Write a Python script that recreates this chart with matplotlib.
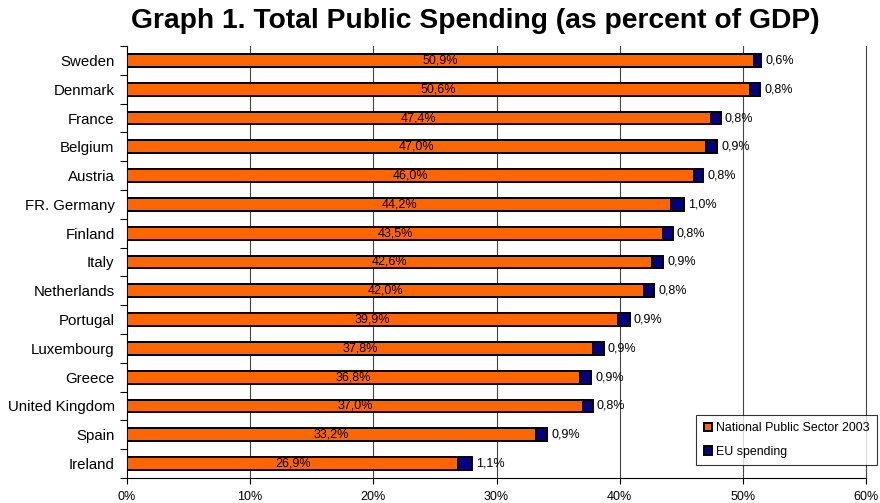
import matplotlib
matplotlib.use("Agg")
import matplotlib.pyplot as plt
import numpy as np

countries = ["Sweden", "Denmark", "France", "Belgium", "Austria", "FR. Germany",
             "Finland", "Italy", "Netherlands", "Portugal", "Luxembourg", "Greece",
             "United Kingdom", "Spain", "Ireland"]
national = [50.9, 50.6, 47.4, 47.0, 46.0, 44.2, 43.5, 42.6, 42.0, 39.9, 37.8, 36.8,
            37.0, 33.2, 26.9]
eu = [0.6, 0.8, 0.8, 0.9, 0.8, 1.0, 0.8, 0.9, 0.8, 0.9, 0.9, 0.9, 0.8, 0.9, 1.1]
xticks = [0, 10, 20, 30, 40, 50, 60]

plt.rcParams["font.family"] = ["Liberation Sans", "DejaVu Sans"]

fig = plt.figure(figsize=(8.8, 5.03), dpi=100)
ax = fig.add_axes([127 / 880, 25 / 503, (866 - 127) / 880, (478 - 46) / 503])

n = len(countries)
y = np.arange(n)[::-1]
h = 0.44

ax.barh(y, national, height=h, color="#FF6600", edgecolor="black", linewidth=1.4,
        label="National Public Sector 2003", zorder=3)
ax.barh(y, eu, left=national, height=h, color="#000080", edgecolor="black",
        linewidth=1.4, label="EU spending", zorder=3)

def pct(v):
    return f"{v:.1f}%".replace(".", ",")

for yi, nv, ev in zip(y, national, eu):
    ax.text(nv / 2, yi, pct(nv), ha="center", va="center", fontsize=9, zorder=4)
    ax.text(nv + ev + 0.35, yi, pct(ev), ha="left", va="center", fontsize=9, zorder=4)

ax.set_xlim(0, 60)
ax.set_ylim(-0.5, n - 0.5)
ax.set_xticks(xticks)
ax.set_xticklabels([f"{t}%" for t in xticks], fontsize=9)
ax.set_yticks(y)
ax.set_yticklabels(countries, fontsize=10.8)
ax.set_yticks(np.arange(-0.5, n, 1.0), minor=True)
ax.tick_params(axis="y", which="major", length=0, pad=9)
ax.tick_params(axis="y", which="minor", length=5, width=0.8, direction="out")
ax.tick_params(axis="x", length=4, width=0.8, direction="out", pad=5)
for t in xticks[1:]:
    ax.axvline(t, color="#444444", linewidth=0.8, zorder=0, clip_on=False)
for s in ("top", "right"):
    ax.spines[s].set_visible(False)
ax.spines["left"].set_linewidth(0.8)
ax.spines["bottom"].set_linewidth(0.8)

fig.suptitle("Graph 1. Total Public Spending (as percent of GDP)", fontsize=20.3,
             fontweight="bold", x=0.54, y=0.985)

leg = ax.legend(loc="lower right", bbox_to_anchor=(877 / 880, 38 / 503),
                bbox_transform=fig.transFigure, fontsize=8.9, frameon=True,
                fancybox=False, edgecolor="black", handlelength=0.7,
                handleheight=0.7, handletextpad=0.3, borderpad=0.6,
                labelspacing=0.9, borderaxespad=0)
leg.get_frame().set_linewidth(0.8)

fig.savefig("out.png", dpi=100)
